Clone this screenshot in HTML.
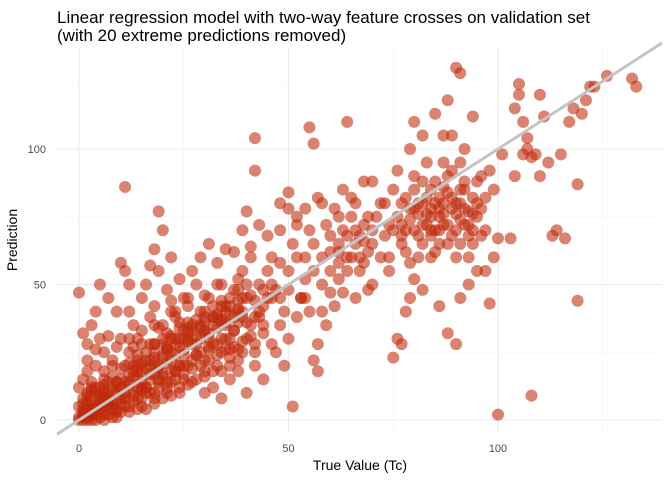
<!DOCTYPE html>
<html><head><meta charset="utf-8">
<style>
body{margin:0;background:#fff;font-family:"Liberation Sans",sans-serif;}
svg text{font-family:"Liberation Sans",sans-serif;}
</style></head>
<body>
<svg id="chart" width="672" height="480" xmlns="http://www.w3.org/2000/svg">
<text x="57" y="23" font-size="17" fill="#000">Linear regression model with two-way feature crosses on validation set</text>
<text x="57" y="41" font-size="17" fill="#000">(with 20 extreme predictions removed)</text>
<g id="grid"></g>
<g id="points"></g>
<g id="line"></g>
<g id="axes"></g>
<text x="360" y="470" font-size="14" text-anchor="middle">True Value (Tc)</text>
<text transform="translate(17,240) rotate(-90)" font-size="14" text-anchor="middle">Prediction</text>
</svg>
<script>
const xTicks=[0,50,100];
const yTicks=[0,50,100];
const minorTicks=[25,75,125];
const trueVals=[0,1,2,3,1,4,5,2,6,7,3,8,5,9,0,1,4,6,2,7,8,9,10,10,0,3,5,2,6,1,4,8,7,9,2,0,3,5,6,1,
11,12,13,14,15,16,17,18,19,20,21,22,23,24,25,11,12,13,14,15,16,17,18,19,20,21,22,23,24,25,12,14,16,18,20,22,24,13,15,17,19,21,23,25,19,20,18,10,11,12,17,20,22,24,16,14,12,10,11,13,15,18,21,23,25,9,7,5,4,
26,27,28,29,30,31,32,33,34,35,36,37,38,39,40,41,42,43,44,45,26,28,30,32,34,36,38,40,42,44,27,29,31,33,35,37,39,41,42,42,40,43,45,26,28,30,32,34,36,38,40,42,44,46,29,31,33,35,37,39,41,43,45,
46,47,48,49,50,51,52,53,54,55,56,55,57,58,59,60,61,62,63,64,65,66,67,68,69,70,50,52,48,50,52,54,56,57,58,60,62,64,66,68,70,47,49,51,53,55,57,59,61,63,65,67,69,46,48,50,54,58,62,65,60,63,66,69,68,64,70,48,
71,72,73,74,75,76,77,78,79,80,81,82,83,84,85,86,87,88,89,90,91,92,93,94,95,96,97,98,99,100,75,76,77,79,80,82,84,86,88,90,91,93,95,90,91,88,94,92,96,98,101,80,82,85,87,78,74,72,73,75,77,79,81,83,85,87,89,91,93,95,97,99,80,84,88,92,86,90,94,89,91,87,84,82,100,103,104,
105,105,106,106,107,108,108,109,110,110,112,113,114,115,116,117,118,119,119,120,121,122,123,126,132,133,104,107,111,
1,2,3,4,5,6,7,8,3,5,7,9,11,13,15,17,19,21,23,25,27,29,31,33,35,14,16,18,20,22,24,26,28,30,32,34,36,38,2,4,6,8,10,
0,1,2,3,4,5,6,7,8,9,10,11,12,13,14,15,16,17,18,19,20,21,22,23,24,25,26,27,28,29,30,31,32,33,34,35,36,37,38,39,
2,4,6,8,10,12,14,16,18,20,22,24,26,28,30,32,34,36,38,40,
3,5,7,9,11,13,15,17,19,21,23,25,27,29,31,33,35,37,39,41,
1,3,6,8,12,15,18,22,26,30,34,38,10,14,18,22,26,30,34,38,42,44,
76,78,80,82,84,86,88,90,92,94,96,78,81,85,89,93,87,83,91,79,95,97,74,77,
46,50,54,58,62,66,70,52,56,60,64,68,48,56,62,67,
1,2,4,5,7,8,10,11,13,14,16,17,19,20,22,23,25,26,28,29,31,32,34,35,37,38,40,41,43,44,
2,4,6,9,12,15,18,21,24,27,30,33,36,39,42,
6,9,12,15,18,21,24,27,30,33,36,39,
80,82,84,86,88,90,92,94,86,89,83,91,79,85,87,93,81,77];
const preds=[0,2,1,5,8,3,6,10,2,9,14,5,12,11,5,15,20,18,22,14,1,3,8,15,47,35,30,28,25,32,26,22,31,27,18,12,9,3,7,4,
10,14,20,12,18,22,15,25,20,17,26,22,30,20,24,86,40,35,30,45,50,38,42,55,35,48,60,40,52,45,5,8,4,10,8,14,10,27,33,28,34,32,38,33,77,70,63,58,55,50,57,28,44,36,10,22,25,30,20,16,11,17,12,18,15,40,45,50,40,
30,35,28,40,32,45,38,50,36,42,30,48,40,55,45,60,38,50,42,55,20,15,22,18,25,20,26,30,28,32,55,60,65,58,63,62,70,64,104,92,77,72,68,45,50,10,12,8,15,18,10,20,15,28,25,30,28,35,33,38,35,40,45,
60,48,70,40,55,65,75,45,60,70,102,108,82,50,72,55,78,65,85,60,75,80,68,88,62,70,84,72,35,30,38,45,22,18,40,47,52,55,45,58,50,25,20,5,45,40,28,35,42,47,60,55,48,45,58,78,78,80,75,82,68,70,65,75,66,110,88,80,
75,60,80,55,70,92,65,40,100,85,60,72,95,70,88,75,80,65,92,70,85,78,60,82,75,68,55,43,85,67,23,30,28,45,52,48,60,42,32,28,45,50,55,130,128,118,112,100,90,92,98,110,105,113,105,62,60,80,68,85,72,78,80,82,70,72,78,65,72,80,70,60,90,85,90,88,65,60,65,105,95,95,78,88,2,67,90,
120,124,110,98,100,97,9,98,90,120,95,68,70,98,67,110,115,87,44,113,118,123,123,127,126,123,115,104,112,
1,3,2,4,6,5,8,7,12,10,6,14,8,18,12,22,14,26,18,30,22,34,26,38,30,20,12,28,16,30,20,34,24,38,28,42,26,36,6,0,10,4,12,
1,3,0,2,5,4,8,6,10,7,12,9,13,11,16,14,19,17,21,19,23,21,25,24,27,26,29,28,31,30,33,32,35,34,37,36,39,38,41,40,
9,12,15,16,19,21,24,25,28,30,31,34,36,37,40,42,44,45,48,50,
0,1,2,4,5,7,8,10,12,14,15,17,19,20,22,24,26,27,29,31,
6,11,13,20,30,28,35,40,42,46,50,52,3,4,6,9,13,16,18,22,25,35,
75,70,78,65,75,82,72,80,85,70,78,82,68,62,68,77,86,76,74,58,88,82,72,80,
50,48,52,60,58,70,65,60,65,62,68,72,45,55,62,60,
0,4,2,8,4,12,6,14,9,18,12,20,15,24,18,28,20,32,24,35,27,38,30,40,33,44,36,46,38,48,
6,9,11,14,17,21,23,27,30,33,36,39,42,45,44,
0,1,3,5,8,10,12,14,18,20,23,25,
70,80,68,78,84,76,72,76,70,82,72,80,74,80,76,68,76,68];
const sx=v=>79+v*(498-79)/100, sy=v=>420-v*(420-149)/100;
const L=57,R=662,T=48,B=432;
const ns="http://www.w3.org/2000/svg";
function mk(tag,attrs,parent){const e=document.createElementNS(ns,tag);for(const k in attrs)e.setAttribute(k,attrs[k]);parent.appendChild(e);return e;}
const grid=document.getElementById('grid');
minorTicks.forEach(v=>{
 const a=mk('line',{x1:sx(v),x2:sx(v),y1:T,y2:B,stroke:'#f3f3f3','stroke-width':0.6},grid);
 
 
 if(sy(v)>T){const b=mk('line',{x1:L,x2:R,y1:sy(v),y2:sy(v),stroke:'#f3f3f3','stroke-width':0.6},grid);
 
 }
});
xTicks.forEach(v=>{
 const a=mk('line',{x1:sx(v),x2:sx(v),y1:T,y2:B,stroke:'#ebebeb','stroke-width':1.1},grid);
 
 
 const t=mk('text',{x:sx(v),y:452,'font-size':11,fill:'#4d4d4d','text-anchor':'middle'},document.getElementById('axes'));
 t.textContent=v;
 
 
});
yTicks.forEach(v=>{
 const a=mk('line',{x1:L,x2:R,y1:sy(v),y2:sy(v),stroke:'#ebebeb','stroke-width':1.1},grid);
 
 
 const t=mk('text',{x:46,y:sy(v)+4,'font-size':11,fill:'#4d4d4d','text-anchor':'end'},document.getElementById('axes'));
 t.textContent=v;
 
 
});
const pts=document.getElementById('points');
for(let i=0;i<trueVals.length;i++){
 const c=mk('circle',{cx:sx(trueVals[i]),cy:sy(preds[i]),r:6,fill:'#c0290b','fill-opacity':0.58},pts);
 
 
}
const x0=(L-79)/((498-79)/100), x1=(R-79)/((498-79)/100);
const ln=mk('line',{x1:sx(x0),y1:sy(x0),x2:sx(x1),y2:sy(x1),stroke:'#c4c4c4','stroke-width':3},document.getElementById('line'));


</script>
</body></html>
